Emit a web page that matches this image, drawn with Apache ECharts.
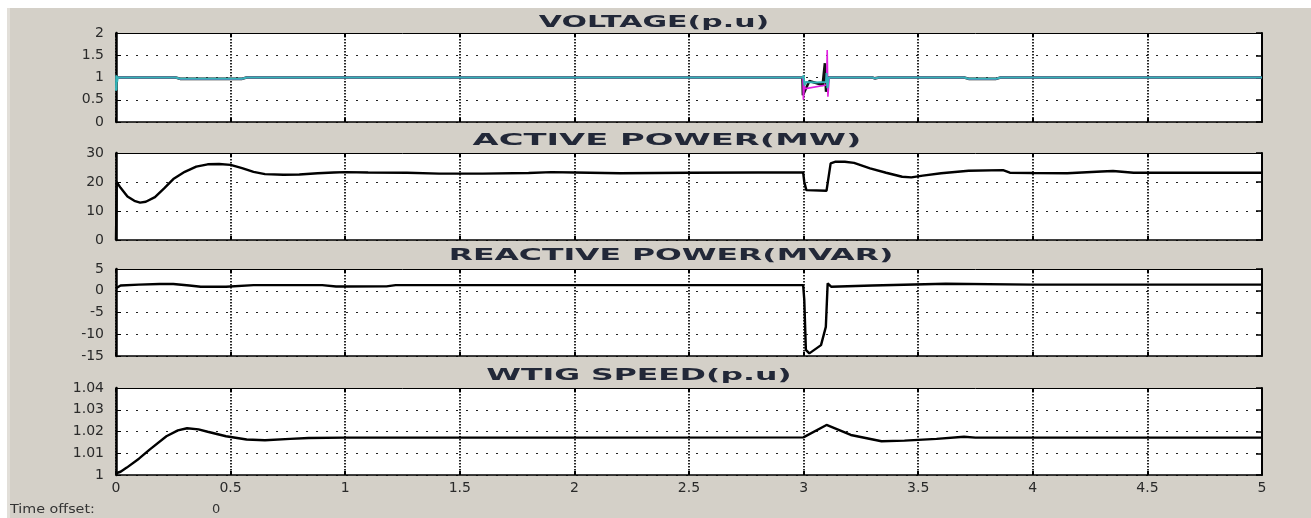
<!DOCTYPE html>
<html><head><meta charset="utf-8">
<script src="https://cdn.jsdelivr.net/npm/echarts@6/dist/echarts.min.js"></script>
<style>
html,body{margin:0;padding:0;background:#fff;width:1311px;height:518px;overflow:hidden}
#chart{position:absolute;left:7px;top:8px;width:1304px;height:510px;background:#d4d0c8}
#strip{position:absolute;left:7px;top:8px;width:3px;height:510px;background:#e2dfd9;z-index:2}
</style></head><body>
<div id="chart"></div><div id="strip"></div>
<script>
// ---- data ----
const panelTitles = ['VOLTAGE(p.u)', 'ACTIVE POWER(MW)', 'REACTIVE POWER(MVAR)', 'WTIG SPEED(p.u)'];
const timeTicks = [0, 0.5, 1, 1.5, 2, 2.5, 3, 3.5, 4, 4.5, 5];
const voltageTicks = [0, 0.5, 1, 1.5, 2];
const activeTicks = [0, 10, 20, 30];
const reactiveTicks = [-15, -10, -5, 0, 5];
const speedTicks = [1, 1.01, 1.02, 1.03, 1.04];

const voltBlackT = [0, 0.26, 0.28, 0.55, 0.57, 2.995, 2.997, 3.0, 3.025, 3.083, 3.09, 3.093, 3.098, 3.106, 3.3, 3.31, 3.33, 3.70, 3.72, 3.84, 3.86, 5];
const voltBlackV = [1, 1, 0.97, 0.97, 1, 1, 0.6, 0.62, 0.92, 0.83, 0.85, 1.32, 0.68, 1.0, 1.0, 0.98, 1.0, 1, 0.97, 0.97, 1, 1];
const voltMagentaT = [0, 0.26, 0.28, 0.55, 0.57, 2.997, 2.999, 3.003, 3.008, 3.1, 3.103, 3.106, 3.112, 3.3, 3.31, 3.33, 3.70, 3.72, 3.84, 3.86, 5];
const voltMagentaV = [1, 1, 0.97, 0.97, 1, 1, 0.5, 0.8, 0.75, 0.83, 1.62, 0.57, 1.0, 1, 0.98, 1, 1, 0.97, 0.97, 1, 1];
const voltCyanT = [0, 0.001, 0.002, 0.003, 0.005, 0.008, 0.26, 0.28, 0.55, 0.57, 2.997, 3.0, 3.004, 3.01, 3.05, 3.098, 3.1, 3.104, 3.11, 3.3, 3.31, 3.33, 3.70, 3.72, 3.84, 3.86, 5];
const voltCyanV = [0.7, 1.05, 0.72, 1.03, 0.9, 1.0, 1.0, 0.97, 0.97, 1.0, 1.0, 1.05, 0.82, 0.9, 0.89, 0.9, 1.1, 0.76, 1.0, 1.0, 0.98, 1.0, 1.0, 0.97, 0.97, 1.0, 1.0];

const activeT = [0, 0.003, 0.02, 0.05, 0.08, 0.105, 0.13, 0.17, 0.21, 0.25, 0.3, 0.35, 0.4, 0.45, 0.5, 0.55, 0.6, 0.65, 0.73, 0.8, 0.88, 0.95, 1.0, 1.1, 1.27, 1.41, 1.6, 1.8, 1.9, 2.0, 2.2, 2.5, 2.8, 2.998, 3.003, 3.012, 3.1, 3.118, 3.14, 3.18, 3.22, 3.29, 3.36, 3.43, 3.47, 3.52, 3.6, 3.72, 3.87, 3.9, 4.0, 4.15, 4.3, 4.35, 4.44, 4.6, 5];
const activeV = [0, 20, 18, 15, 13.5, 12.9, 13.2, 14.8, 17.8, 21.0, 23.5, 25.3, 26.1, 26.2, 25.9, 24.8, 23.5, 22.7, 22.5, 22.6, 23.0, 23.3, 23.4, 23.3, 23.2, 22.9, 22.9, 23.1, 23.4, 23.3, 23.0, 23.2, 23.3, 23.3, 20.0, 17.2, 17.0, 26.4, 27.0, 27.0, 26.6, 24.7, 23.2, 21.8, 21.6, 22.2, 23.0, 23.9, 24.1, 23.2, 23.1, 23.0, 23.6, 23.8, 23.2, 23.2, 23.2];

const reactiveT = [0, 0.003, 0.02, 0.1, 0.19, 0.25, 0.32, 0.37, 0.48, 0.6, 0.9, 0.96, 1.0, 1.18, 1.22, 1.6, 2.0, 2.5, 2.998, 3.003, 3.01, 3.025, 3.076, 3.097, 3.105, 3.12, 3.3, 3.62, 4.0, 5];
const reactiveV = [0.56, 1.0, 1.2, 1.4, 1.55, 1.55, 1.2, 0.93, 0.93, 1.3, 1.3, 0.98, 0.98, 1.0, 1.3, 1.3, 1.3, 1.3, 1.3, -2.1, -13.6, -14.4, -12.5, -8.3, 1.7, 0.93, 1.2, 1.6, 1.4, 1.4];

const speedT = [0, 0.02, 0.047, 0.1, 0.148, 0.22, 0.27, 0.31, 0.36, 0.40, 0.48, 0.57, 0.65, 0.76, 0.84, 1.0, 2.0, 2.999, 3.1, 3.206, 3.34, 3.44, 3.58, 3.70, 3.75, 4.5, 5];
const speedV = [1.0008, 1.0015, 1.0034, 1.0075, 1.0118, 1.0178, 1.0205, 1.0215, 1.0210, 1.0199, 1.0178, 1.0163, 1.016, 1.0166, 1.017, 1.0172, 1.0172, 1.0173, 1.0230, 1.0184, 1.0155, 1.0158, 1.0166, 1.0176, 1.0172, 1.0172, 1.0172];

// ---- layout ----
const gridTops = [25, 145, 261, 380];
const gridHeights = [89, 87, 87, 87];
const titleX = [647, 660, 664, 632];
const titleY = [15, 133, 248, 368];
const titleScale = [2.0, 2.25, 2.1, 2.1];
const yTickSets = [voltageTicks, activeTicks, reactiveTicks, speedTicks];

const zip = (t, v) => t.map((x, i) => [x, v[i]]);
const fmt = v => String(Math.round(v * 100) / 100);
const labelStyle = { color: '#2a2a2a', fontFamily: 'DejaVu Sans', fontSize: 14 };

const grids = [], xAxes = [], yAxes = [];
for (let i = 0; i < 4; i++) {
  grids.push({ left: 109, right: 49, top: gridTops[i], height: gridHeights[i], show: true, backgroundColor: '#fff', borderWidth: 0 });
  const xb = {
    gridIndex: i, type: 'value', position: 'bottom',
    min: timeTicks[0], max: timeTicks[timeTicks.length - 1], interval: timeTicks[1] - timeTicks[0],
    axisLine: { show: true, onZero: false, lineStyle: { color: '#000', width: 1.5 } },
    axisTick: { show: true, inside: true, length: 4, lineStyle: { color: '#000', width: 2 } },
    axisLabel: { show: i === 3, margin: 6, formatter: fmt, ...labelStyle },
    splitLine: { show: true, lineStyle: { color: '#111', type: [1.5, 1.5], width: 1.8 } }
  };
  const xt = { ...xb, position: 'top', axisLabel: { show: false }, splitLine: { show: false },
    axisLine: { show: true, onZero: false, lineStyle: { color: '#000', width: 1 } } };
  xAxes.push(xb, xt);
  const ticks = yTickSets[i];
  const yl = {
    gridIndex: i, type: 'value', position: 'left',
    min: ticks[0], max: ticks[ticks.length - 1], interval: ticks[1] - ticks[0],
    axisLine: { show: true, onZero: false, lineStyle: { color: '#000', width: 2.5 } },
    axisTick: { show: true, inside: true, length: 5, lineStyle: { color: '#000', width: 1 } },
    axisLabel: { show: true, margin: 12, formatter: fmt, ...labelStyle },
    splitLine: { show: true, lineStyle: { color: '#222', type: [2, 8], width: 1.2 } }
  };
  const yr = { ...yl, position: 'right', axisLabel: { show: false }, splitLine: { show: false },
    axisLine: { show: true, onZero: false, lineStyle: { color: '#000', width: 2 } },
    axisTick: { show: true, inside: true, length: 6, lineStyle: { color: '#000', width: 1.5 } } };
  yAxes.push(yl, yr);
}

const line = (gi, data, color, width) => ({
  type: 'line', xAxisIndex: gi * 2, yAxisIndex: gi * 2, data, showSymbol: false, symbol: 'none',
  lineStyle: { color, width }, animation: false, silent: true, clip: true
});

const series = [
  line(0, zip(voltBlackT, voltBlackV), '#111', 2.6),
  line(0, zip(voltMagentaT, voltMagentaV), '#e020e0', 1.6),
  line(0, zip(voltCyanT, voltCyanV), '#34b4b8', 2),
  line(1, zip(activeT, activeV), '#000', 2.4),
  line(2, zip(reactiveT, reactiveV), '#000', 2.4),
  line(3, zip(speedT, speedV), '#000', 2.4)
];

const graphic = panelTitles.map((t, i) => ({
  type: 'text', x: titleX[i], y: titleY[i], scaleX: titleScale[i], scaleY: 1,
  style: { text: t, font: 'bold 15px "DejaVu Sans"', fill: '#222838', align: 'center', verticalAlign: 'middle' }
}));
graphic.push({
  type: 'text', x: 3, y: 502, scaleX: 1.1, scaleY: 1,
  style: { text: 'Time offset:', font: '13px "DejaVu Sans"', fill: '#333', align: 'left', verticalAlign: 'middle' }
});
graphic.push({
  type: 'text', x: 205, y: 502,
  style: { text: '0', font: '13px "DejaVu Sans"', fill: '#333', align: 'left', verticalAlign: 'middle' }
});

const chart = echarts.init(document.getElementById('chart'), null, { renderer: 'canvas' });
chart.setOption({
  animation: false,
  backgroundColor: '#d4d0c8',
  grid: grids, xAxis: xAxes, yAxis: yAxes, series, graphic
});
</script>
</body></html>
